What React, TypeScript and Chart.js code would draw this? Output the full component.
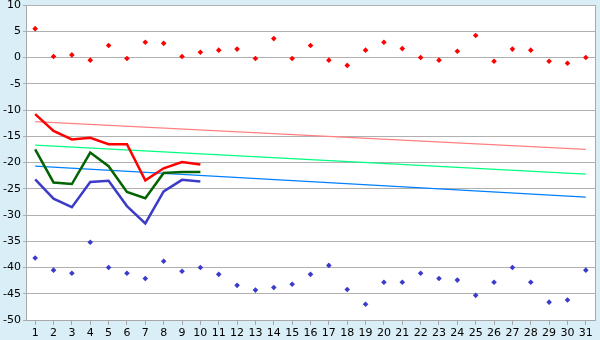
import React, { useEffect, useRef } from "react";
import { Chart, registerables } from "chart.js";

Chart.register(...registerables);

const days: string[] = Array.from({ length: 31 }, (_, i) => String(i + 1));

const recordMax: number[] = [
  5.5, 0.2, 0.5, -0.5, 2.3, -0.2, 2.9, 2.7, 0.2, 1.0,
  1.4, 1.6, -0.2, 3.6, -0.2, 2.3, -0.5, -1.5, 1.4, 2.9,
  1.7, 0.0, -0.5, 1.2, 4.2, -0.7, 1.6, 1.4, -0.7, -1.1, 0.0,
];

const recordMin: number[] = [
  -38.2, -40.5, -41.1, -35.2, -40.0, -41.1, -42.1, -38.8, -40.7, -40.0,
  -41.3, -43.4, -44.3, -43.8, -43.2, -41.3, -39.6, -44.2, -47.0, -42.8,
  -42.8, -41.1, -42.1, -42.4, -45.3, -42.8, -40.0, -42.8, -46.6, -46.2, -40.5,
];

const dayMax: number[] = [-10.8, -14.0, -15.6, -15.3, -16.5, -16.5, -23.4, -21.1, -19.9, -20.4];
const dayMean: number[] = [-17.5, -23.8, -24.1, -18.1, -20.7, -25.6, -26.8, -22.0, -21.8, -21.8];
const dayMin: number[] = [-23.2, -26.9, -28.5, -23.7, -23.5, -28.3, -31.6, -25.5, -23.3, -23.6];

// normal (trend) lines: value at first and last day
const normMaxEnds: [number, number] = [-12.2, -17.5];
const normMeanEnds: [number, number] = [-16.7, -22.2];
const normMinEnds: [number, number] = [-20.7, -26.6];

const yTicks = { min: -50, max: 10, step: 5 };

function ends(e: [number, number]): (number | null)[] {
  return days.map((_, i) => (i === 0 ? e[0] : i === days.length - 1 ? e[1] : null));
}

const bgPlugin = {
  id: "bgPlugin",
  beforeDraw(chart: any) {
    const { ctx, chartArea } = chart;
    ctx.save();
    ctx.fillStyle = "#d9eef6";
    ctx.fillRect(0, 0, chart.width, chart.height);
    ctx.fillStyle = "#ffffff";
    ctx.fillRect(chartArea.left, chartArea.top, chartArea.right - chartArea.left, chartArea.bottom - chartArea.top);
    ctx.restore();
  },
  afterDatasetsDraw(chart: any) {
    const { ctx, chartArea } = chart;
    ctx.save();
    ctx.strokeStyle = "#a8a8a8";
    ctx.lineWidth = 1;
    ctx.beginPath();
    ctx.moveTo(chartArea.right + 0.5, chartArea.top);
    ctx.lineTo(chartArea.right + 0.5, chartArea.bottom);
    ctx.stroke();
    ctx.restore();
  },
};

export default function App() {
  const ref = useRef<HTMLCanvasElement | null>(null);

  useEffect(() => {
    document.body.style.margin = "0";
    if (!ref.current) return;
    const font = { family: "'DejaVu Sans', Verdana, sans-serif", size: 11 };
    const pointDs = (data: number[], color: string) => ({
      type: "line" as const,
      data,
      showLine: false,
      pointStyle: "rectRot",
      pointRadius: 2.8,
      pointHoverRadius: 2.8,
      pointBorderWidth: 0,
      backgroundColor: color,
      borderColor: color,
    });
    const lineDs = (data: number[], color: string) => ({
      type: "line" as const,
      data,
      borderColor: color,
      backgroundColor: color,
      borderWidth: 2.5,
      pointRadius: 0,
      tension: 0,
    });
    const trendDs = (data: (number | null)[], color: string) => ({
      type: "line" as const,
      data,
      borderColor: color,
      backgroundColor: color,
      borderWidth: 1.3,
      pointRadius: 0,
      spanGaps: true,
      tension: 0,
    });
    const chart = new Chart(ref.current, {
      type: "line",
      data: {
        labels: days,
        datasets: [
          pointDs(recordMax, "#ff0000"),
          pointDs(recordMin, "#3a3acc"),
          lineDs(dayMax, "#ff0000"),
          lineDs(dayMean, "#006400"),
          lineDs(dayMin, "#3c3cc8"),
          trendDs(ends(normMaxEnds), "#ff8080"),
          trendDs(ends(normMeanEnds), "#00ff80"),
          trendDs(ends(normMinEnds), "#0080ff"),
        ] as any,
      },
      options: {
        animation: false,
        responsive: false,
        events: [],
        layout: { padding: { top: 5, right: 5, left: 0, bottom: 0 } },
        plugins: { legend: { display: false }, tooltip: { enabled: false } },
        scales: {
          x: {
            type: "category",
            offset: true,
            grid: {
              offset: false,
              drawOnChartArea: false,
              drawTicks: true,
              tickLength: 5,
              color: "#a8a8a8",
            },
            border: { display: true, color: "#a8a8a8" },
            ticks: { color: "#000", font, padding: 2, maxRotation: 0, autoSkip: false },
            afterFit: (s: any) => {
              s.height = 20;
              s.paddingLeft = 0;
              s.paddingRight = 0;
            },
          },
          y: {
            min: yTicks.min,
            max: yTicks.max,
            grid: { color: "#b0b0b0", tickLength: 3, drawTicks: true },
            border: { display: true, color: "#a8a8a8" },
            ticks: { stepSize: yTicks.step, color: "#000", font, padding: 2 },
            afterFit: (s: any) => {
              s.width = 26;
              s.paddingTop = 0;
              s.paddingBottom = 0;
            },
          },
        },
      },
      plugins: [bgPlugin],
    });
    return () => chart.destroy();
  }, []);

  return <canvas ref={ref} width={600} height={340} style={{ display: "block" }} />;
}
